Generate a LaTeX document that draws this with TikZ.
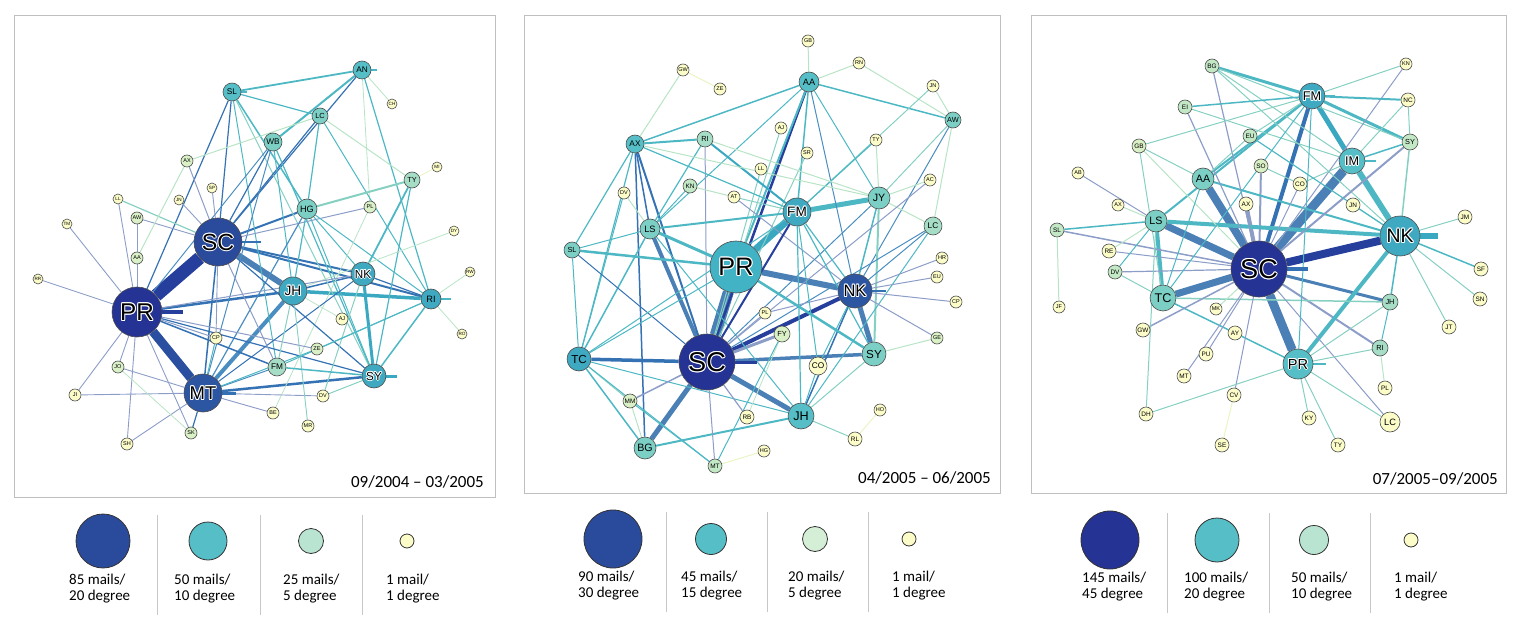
\documentclass[tikz,border=0pt]{standalone}
\usepackage{fontspec}
\setmainfont{Carlito}
\newfontfamily\lsans{Liberation Sans}
\usetikzlibrary{calc}
\pgfdeclarelayer{edges}
\pgfsetlayers{edges,main}
% edge colours
\definecolor{cY}{HTML}{E9F5C2}
\definecolor{cG}{HTML}{B8E4C6}
\definecolor{cL}{HTML}{86D0C2}
\definecolor{cT}{HTML}{4DB8C4}
\definecolor{cT2}{HTML}{3AA8C0}
\definecolor{cS}{HTML}{8C9DC8}
\definecolor{cB}{HTML}{4A8DC0}
\definecolor{cD}{HTML}{3472B4}
\definecolor{cN}{HTML}{263E9C}
\definecolor{cM}{HTML}{4A80B5}
\definecolor{cE}{HTML}{2B4FA0}
% node colours
\definecolor{nY}{HTML}{FCFCC8}
\definecolor{nG}{HTML}{DAF0C6}
\definecolor{nG2}{HTML}{C3E8C6}
\definecolor{nL}{HTML}{A6DDC6}
\definecolor{nM}{HTML}{7CCFC4}
\definecolor{nT}{HTML}{56BEC6}
\definecolor{nT2}{HTML}{3EA9C1}
\definecolor{nP}{HTML}{41B3C4}
\definecolor{nB1}{HTML}{2D56A2}
\definecolor{nB2}{HTML}{2A4A9C}
\definecolor{nN}{HTML}{253494}
\definecolor{frame}{HTML}{BFBFBF}
\newcommand\halo[1]{\leavevmode
 \rlap{\textcolor{white}{\kern1pt#1}}\rlap{\textcolor{white}{\kern-1pt#1}}%
 \rlap{\textcolor{white}{\raisebox{1pt}{#1}}}\rlap{\textcolor{white}{\raisebox{-1pt}{#1}}}%
 \rlap{\textcolor{white}{\kern0.7pt\raisebox{0.7pt}{#1}}}\rlap{\textcolor{white}{\kern-0.7pt\raisebox{0.7pt}{#1}}}%
 \rlap{\textcolor{white}{\kern0.7pt\raisebox{-0.7pt}{#1}}}\rlap{\textcolor{white}{\kern-0.7pt\raisebox{-0.7pt}{#1}}}%
 #1}
\tikzset{
 nd/.style={circle,draw=black!70,line width=0.6pt,inner sep=0pt,text=black},
 panel/.style={draw=frame,line width=1pt},
 sep/.style={draw=black!22,line width=0.8pt},
 leg/.style={circle,draw=black!80,line width=0.8pt,inner sep=0pt},
 legtxt/.style={anchor=north west,align=left,inner sep=0pt,font=\fontsize{15}{15.5}\selectfont},
 datetxt/.style={anchor=base east,inner sep=0pt,font=\fontsize{17}{17}\selectfont},
 stub/.style={line cap=butt}
}
\newcommand\nodes[1]{%
 \foreach \n/\x/\y/\r/\f/\l in {#1}{%
  \pgfmathsetmacro\fs{(\r<11)?0.92*\r:0.97*\r}%
  \node[nd,fill=\f,minimum size={2*\r*1pt}] (\n) at (\x,\y) {\lsans\fontsize{\fs}{\fs}\selectfont \l};}}
\newcommand\edges[1]{%
 \foreach \a/\b/\c/\w in {#1}{\draw[draw=\c,line width=\w pt] (\a) -- (\b);}}
\begin{document}
\begin{tikzpicture}[x=1pt,y=-1pt]
\useasboundingbox (0,0) rectangle (1525,628);
% frames
\draw[panel] (14,16) rectangle (495,497);
\draw[panel] (524,16) rectangle (1000,493);
\draw[panel] (1031,16) rectangle (1506,493);
% ---------------- panel 1 nodes
\nodes{aAN/362/70/9/nT/AN, aSL/232/92/9/nT/SL, aCH/392/104/5/nY/CH, aLC/320/116/8/nM/LC,
 aWB/273/142/9/nM/WB, aAX/187/161/6/nG/AX, aMI/437/167/5/nY/MI, aTY/412/180/8/nL/TY,
 aSP/212/188/5/nY/SP, aLL/118/199/5/nY/LL, aJN/179/200/5/nY/JN, aHG/307/209/10/nM/HG,
 aPL/370/207/6/nG/PL, aAW/137/218/6/nG/AW, aTM/67/224/5/nY/TM, aDY/454/231/5/nY/DY,
 aSC/218/242/24/nB2/{\halo{SC}}, aAA/137/258/6/nG/AA, aRR/38/279/5/nY/RR, aRW/470/272/5/nY/RW,
 aNK/363/274/12/nT2/{\halo{NK}}, aJH/293/291/14/nT2/{\halo{JH}}, aRI/431/299/10/nT2/RI,
 aPR/137/312/25/nN/{\halo{PR}}, aAJ/342/319/6/nY/AJ, aRO/462/334/5/nY/RO, aCP/216/338/6/nY/CP,
 aZE/317/349/6/nG/ZE, aJO/118/367/6/nG/JO, aFM/277/367/9/nL/FM, aSY/374/376/12/nT2/{\halo{SY}},
 aMT/203/393/19/nB1/{\halo{MT}}, aJI/75/395/6/nY/JI, aDV/323/396/6/nY/DV, aBE/273/413/6/nY/BE,
 aMR/308/426/6/nY/MR, aSK/191/433/6/nG/SK, aSH/127/444/6/nY/SH}
% ---------------- panel 2 nodes
\nodes{bGB/808/41/6/nY/GB, bRN/859/63/6/nY/RN, bGW/683/70/6/nY/GW, bAA/809/82/10/nT/AA,
 bZE/720/89/6/nY/ZE, bJN/933/86/6/nY/JN, bAW/953/120/8/nM/AW, bAJ/781/128/6/nY/AJ,
 bAX/635/144/9/nT/AX, bRI/705/139/8/nL/RI, bTY/876/140/6/nY/TY, bSR/807/153/6/nY/SR,
 bLL/761/169/6/nY/LL, bAC/930/180/6/nY/AC, bKN/690/186/7/nG2/KN, bDV/624/193/6/nY/DV,
 bAT/734/197/6/nY/AT, bJY/879/198/11/nM/JY, bFM/797/212/14/nT2/{\halo{FM}}, bLS/650/229/10/nM/LS,
 bLC/933/226/9/nL/LC, bSL/572/250/8/nM/SL, bPR/736/267/26/nP/{\halo{PR}}, bHR/942/258/6/nY/HR,
 bEU/937/277/6/nY/EU, bNK/855/291/17/nB1/{\halo{NK}}, bCP/956/302/6/nY/CP, bPL/765/313/6/nY/PL,
 bFY/782/334/8/nG/FY, bGE/937/338/6/nG/GE, bSY/874/354/12/nM/SY, bTC/579/359/12/nT2/TC,
 bSC/707/362/28/nN/{\halo{SC}}, bCO/818/366/9/nY/CO, bMM/630/401/7/nG/MM, bHO/880/410/6/nY/HO,
 bJH/801/416/13/nT/JH, bRB/747/417/7/nY/RB, bRL/855/439/7/nY/RL, bBG/645/448/11/nM/BG,
 bHG/764/451/6/nY/HG, bMT/715/466/7/nG2/MT}
% ---------------- panel 3 nodes
\nodes{cBG/1212/66/7/nG2/BG, cKN/1406/64/6/nY/KN, cFM/1312/96/13/nT2/{\halo{FM}}, cNC/1408/100/7/nY/NC,
 cEI/1185/107/7/nG2/EI, cEU/1250/136/7/nG2/EU, cSY/1410/142/8/nG2/SY, cGB/1139/146/7/nG/GB,
 cIM/1352/161/13/nT/{\halo{IM}}, cSO/1261/166/7/nG/SO, cAB/1078/173/6/nY/AB, cAA/1203/179/11/nM/AA,
 cCO/1300/184/7/nY/CO, cAXa/1118/205/6/nY/AX, cAX/1246/204/7/nY/AX, cJN/1353/205/7/nY/JN,
 cJM/1465/217/7/nY/JM, cLS/1156/221/11/nM/LS, cSL/1057/230/7/nG2/SL, cNK/1400/236/20/nT2/{\halo{NK}},
 cRE/1109/251/7/nY/RE, cSC/1259/269/28/nN/{\halo{SC}}, cSF/1481/269/7/nY/SF, cDV/1115/272/7/nG2/DV,
 cTC/1163/298/13/nM/TC, cJH/1390/302/8/nL/JH, cSN/1480/299/7/nY/SN, cJF/1059/307/6/nY/JF,
 cMK/1216/309/6/nY/MK, cJT/1449/327/7/nY/JT, cGW/1143/330/7/nY/GW, cAY/1235/333/7/nY/AY,
 cRI/1380/348/8/nL/RI, cPU/1206/354/7/nY/PU, cPR/1298/364/15/nT/{\halo{PR}}, cMT/1184/376/7/nY/MT,
 cPL/1385/388/7/nY/PL, cCV/1234/395/7/nY/CV, cDH/1146/414/7/nY/DH, cKY/1309/418/7/nY/KY,
 cLC/1390/422/10/nY/LC, cSE/1222/445/7/nY/SE, cTY/1338/445/7/nY/TY}
% ---------------- edges
\begin{pgfonlayer}{edges}
\edges{aPR/aSC/cN/13, aPR/aMT/cE/9, aSC/aJH/cM/6, aMT/aJH/cB/4, aPR/aJH/cD/2.5,
 aSC/aNK/cD/2, aSC/aRI/cD/2, aJH/aRI/cT2/3.5, aJH/aNK/cD/1.5, aNK/aSY/cT2/3, aSY/aRI/cT/1.5,
 aMT/aSY/cD/2.5, aNK/aRI/cD/1.2, aSC/aHG/cD/2, aSC/aMT/cD/1.5,
 aAN/aSL/cT/1.8, aAN/aWB/cT/2, aAN/aSC/cD/1.2, aAN/aCH/cG/0.8, aAN/aPL/cG/0.8, aAN/aRI/cT/1.2,
 aSL/aLC/cT/1.2, aSL/aHG/cT/1.5, aSL/aSC/cD/1.2, aSL/aPR/cD/1.2, aSL/aFM/cT/1, aSL/aSY/cL/1,
 aAX/aLC/cG/1, aLC/aTY/cG/1, aLC/aHG/cT/1.2, aLC/aSC/cD/1.2, aLC/aRI/cT/1,
 aWB/aSC/cD/1.2, aWB/aPR/cB/1, aWB/aMT/cB/1, aWB/aJH/cT/1, aWB/aSY/cT/1.2,
 aHG/aTY/cL/2, aSC/aPL/cS/1, aHG/aMT/cB/1.2, aHG/aJH/cT/1.2, aHG/aNK/cT/1, aHG/aSY/cT/1, aHG/aRI/cT/1,
 aTY/aMI/cY/0.8, aTY/aNK/cT/1.8, aTY/aSY/cT/1.2, aDY/aJH/cG/0.8, aPL/aBE/cG/0.8,
 aTM/aPR/cS/0.9, aLL/aSC/cL/1.2, aLL/aPR/cS/0.9, aAW/aSC/cS/0.9, aAW/aAA/cS/0.9,
 aAX/aSC/cS/1, aAX/aAA/cG/1, aJN/aSC/cS/0.9, aSP/aSC/cS/0.9, aRR/aPR/cS/0.9, aAA/aPR/cS/0.9,
 aPR/aCP/cS/1, aPR/aZE/cS/1, aPR/aFM/cD/1.5, aPR/aSY/cD/1.2, aPR/aNK/cS/1,
 aPR/aJO/cS/0.9, aPR/aJI/cS/0.9, aPR/aSH/cS/0.9, aPR/aSK/cS/0.9,
 aMT/aJO/cS/0.9, aJI/aMT/cS/0.9, aMT/aDV/cS/0.9, aMT/aSK/cD/1.2, aMT/aSH/cS/0.9, aMT/aBE/cS/0.9,
 aMT/aFM/cB/1, aMT/aZE/cT/1, aMT/aNK/cD/1, aMT/aCP/cT/1,
 aSC/aFM/cS/1, aSC/aSY/cD/1.2, aSC/aCP/cS/0.9,
 aJH/aAJ/cG/0.8, aJH/aMR/cL/0.9, aJH/aFM/cL/1, aNK/aDV/cL/1, aFM/aSY/cT/1.5, aSY/aDV/cL/1,
 aRI/aRW/cG/0.8, aRI/aRO/cG/0.8, aRI/aZE/cT/1, aFM/aRI/cT/1, aJO/aSK/cG/0.8}
\draw[stub,cN,line width=4pt] (aPR.center) -- ++(46,0);
\draw[stub,cD,line width=2pt] (aSC.center) -- ++(43,0);
\draw[stub,cD,line width=3pt] (aMT.center) -- ++(33,0);
\draw[stub,cT2,line width=3pt] (aSY.center) -- ++(23,0);
\draw[stub,cT,line width=2pt] (aRI.center) -- ++(20,0);
\draw[stub,cT,line width=2pt] (aAN.center) -- ++(15,0);
\draw[stub,cT,line width=2pt] (aSL.center) -- ++(15,0);
% panel 2
\edges{bSC/bPR/cM/11, bPR/bFM/cT2/7, bPR/bNK/cM/6, bFM/bJY/cT/5, bSC/bNK/cN/4, bSC/bFY/cS/3,
 bSC/bSY/cM/3.5, bSC/bTC/cD/3.5, bSC/bJH/cM/5, bSC/bBG/cM/5, bNK/bSY/cM/5, bLS/bSC/cM/4,
 bAX/bSC/cD/2, bAA/bSC/cN/2.5, bAA/bPR/cT/2, bAA/bFM/cT/1.5, bAA/bNK/cB/1, bAA/bAX/cT/1.5,
 bAA/bAW/cT/1.5, bAA/bJY/cT/1, bAA/bRN/cG/1, bAA/bGB/cG/1, bAA/bLS/cT/1,
 bGW/bZE/cY/1, bGW/bAX/cG/1, bRN/bAW/cG/1, bJN/bAW/cG/1, bJN/bFM/cL/1, bTY/bFM/cT/1.2, bTY/bJY/cG/1,
 bAW/bJY/cL/1, bAW/bNK/cB/1, bAW/bLC/cG/1, bAJ/bSC/cL/1, bSR/bSC/cL/1, bLL/bSC/cL/1,
 bRI/bAX/cT/2, bRI/bLS/cT/1.2, bRI/bFM/cT2/2, bRI/bJY/cG/1, bRI/bSC/cS/1,
 bAX/bLS/cD/1.5, bAX/bTC/cT/1.2, bAX/bSL/cT/1.2, bAX/bFM/cT/1.2, bAX/bBG/cD/1.5, bAX/bJY/cG/1,
 bKN/bAT/cG/1, bKN/bLS/cT/1, bAT/bNK/cS/1, bAT/bFM/cL/1, bDV/bLS/cG/1, bDV/bTC/cT/1,
 bLS/bFM/cT/2, bLS/bSL/cT/1, bLS/bPR/cT/3, bLS/bTC/cT/1.5, bLS/bJH/cT/1,
 bSL/bPR/cT/2.5, bSL/bTC/cT/1, bSL/bSC/cD/1,
 bTC/bPR/cT/1, bTC/bFM/cT/1, bTC/bMM/cL/1, bTC/bBG/cT/1.5, bTC/bJH/cT/1, bTC/bMT/cT/1,
 bJY/bNK/cT/1.5, bJY/bSY/cL/2, bJY/bSC/cB/1, bJY/bLC/cG/1, bJY/bAC/cG/1,
 bLC/bNK/cB/1, bLC/bSC/cB/1, bLC/bJH/cT/1, bAC/bSC/cS/1,
 bNK/bHR/cS/1, bNK/bEU/cS/1, bNK/bCP/cS/1, bNK/bGE/cS/1, bNK/bFM/cT/1.2, bNK/bJH/cD/1.5,
 bNK/bCO/cT/1, bNK/bPL/cS/1, bSY/bGE/cG/1, bSY/bPR/cT/2.5, bSY/bJH/cL/1,
 bFM/bSC/cN/2, bFM/bJH/cT/1.2, bFM/bCO/cT/1, bFM/bSY/cT/1.2, bFY/bRB/cG/0.8, bPL/bSC/cS/1,
 bCO/bJH/cT/1, bJH/bRL/cL/1, bJH/bBG/cT/2, bRL/bHO/cY/1, bMM/bSC/cS/1.5, bMM/bBG/cG/1,
 bMM/bMT/cT/1, bMT/bHG/cY/1, bMT/bSC/cS/1, bMT/bFY/cT/1, bRB/bSC/cS/1.2}
\draw[stub,cN,line width=3pt] (bSC.center) -- ++(50,0);
\draw[stub,cD,line width=2pt] (bNK.center) -- ++(31,0);
% panel 3
\edges{cSC/cNK/cN/8, cSC/cIM/cM/9, cSC/cAA/cM/8, cSC/cLS/cM/7, cSC/cTC/cM/7, cSC/cPR/cM/9,
 cSC/cFM/cD/4, cSC/cAX/cS/4, cSC/cSO/cS/2, cSC/cJH/cM/3, cSC/cRI/cS/2,
 cFM/cIM/cT2/5, cIM/cNK/cT/6, cFM/cSY/cT/3, cPR/cNK/cT/4, cLS/cNK/cT/4, cAA/cNK/cT/2,
 cLS/cTC/cT/4, cLS/cFM/cT/2, cAA/cFM/cT/2, cBG/cFM/cT/3, cBG/cSY/cL/1, cBG/cIM/cL/1,
 cBG/cNK/cL/1, cBG/cSC/cS/1.2, cEI/cFM/cT/1.5, cEI/cSC/cS/1.2, cEI/cIM/cL/1,
 cKN/cFM/cL/1, cKN/cSC/cS/1, cNC/cFM/cT/2, cNC/cIM/cL/1, cNC/cSY/cL/1,
 cSY/cIM/cT/1.5, cSY/cSC/cS/2, cSY/cNK/cL/1.5, cGB/cFM/cL/1, cGB/cAA/cL/1, cGB/cTC/cL/1,
 cGB/cSC/cG/1, cAB/cLS/cS/1, cAXa/cLS/cG/1, cSL/cLS/cT/1.5, cSL/cSC/cS/1.5, cSL/cJF/cG/1,
 cRE/cLS/cG/1, cRE/cSC/cS/1, cDV/cLS/cT/1, cDV/cSC/cS/1.2, cDV/cTC/cL/1,
 cTC/cJH/cL/1.5, cTC/cAY/cT/1.5, cAY/cPR/cT/1.5, cGW/cSC/cS/1.5, cMK/cSC/cG/1,
 cPU/cSC/cS/1, cMT/cSC/cS/1, cCV/cSC/cS/1, cCV/cSE/cY/1, cDH/cPR/cL/1, cDH/cLS/cL/1,
 cKY/cPR/cL/1, cTY/cPR/cL/1, cLC/cPR/cL/1, cLC/cSC/cS/1, cRI/cPR/cL/1, cRI/cJH/cT/1,
 cRI/cPL/cG/1, cJH/cNK/cT/1.5, cJH/cPR/cL/1, cJM/cNK/cL/1, cSF/cNK/cT/1.5, cSN/cNK/cL/1,
 cJT/cNK/cL/1, cCO/cIM/cL/1, cCO/cSC/cS/1, cCO/cSO/cL/1, cJN/cNK/cL/1, cEU/cNK/cT/1.2,
 cEU/cAA/cL/1, cEU/cFM/cL/1, cAA/cTC/cT/1, cFM/cTC/cT/1, cFM/cPR/cT/1}
\draw[stub,cD,line width=4pt] (cSC.center) -- ++(49,0);
\draw[stub,cT2,line width=6pt] (cNK.center) -- ++(38,0);
\draw[stub,cT,line width=2pt] (cIM.center) -- ++(24,0);
\draw[stub,cT,line width=2pt] (cFM.center) -- ++(23,0);
\draw[stub,cT,line width=2pt] (cPR.center) -- ++(28,0);
\end{pgfonlayer}
% dates
\node[datetxt] (d1) at (484,487) {09/2004 -- 03/2005};
\node[datetxt] (d2) at (991,483) {04/2005 -- 06/2005};
\node[datetxt] (d3) at (1498,484) {07/2005--09/2005};
% ---------------- legends
\node[leg,fill=nB2,minimum size=54pt] (l11) at (103,541) {};
\node[leg,fill=nT,minimum size=38pt] (l12) at (208,541) {};
\node[leg,fill=nL!80!white,minimum size=25pt] (l13) at (311,541) {};
\node[leg,fill=nY,minimum size=14pt] (l14) at (407,541) {};
\node[legtxt] (t11) at (69,574) {85 mails/\\20 degree};
\node[legtxt] (t12) at (174,574) {50 mails/\\10 degree};
\node[legtxt] (t13) at (283,574) {25 mails/\\5 degree};
\node[legtxt] (t14) at (386,574) {1 mail/\\1 degree};
\draw[sep] (157,515) -- (157,615);
\draw[sep] (260,515) -- (260,615);
\draw[sep] (362,515) -- (362,615);
\node[leg,fill=nB2,minimum size=58pt] (l21) at (613,539) {};
\node[leg,fill=nT,minimum size=31pt] (l22) at (711,539) {};
\node[leg,fill=nG2!70!white,minimum size=25pt] (l23) at (815,539) {};
\node[leg,fill=nY,minimum size=14pt] (l24) at (909,539) {};
\node[legtxt] (t21) at (578,571) {90 mails/\\30 degree};
\node[legtxt] (t22) at (681,571) {45 mails/\\15 degree};
\node[legtxt] (t23) at (788,571) {20 mails/\\5 degree};
\node[legtxt] (t24) at (892,571) {1 mail/\\1 degree};
\draw[sep] (666,512) -- (666,612);
\draw[sep] (767,512) -- (767,612);
\draw[sep] (868,512) -- (868,612);
\node[leg,fill=nN,minimum size=58pt] (l31) at (1110,540) {};
\node[leg,fill=nT,minimum size=44pt] (l32) at (1217,540) {};
\node[leg,fill=nL!80!white,minimum size=29pt] (l33) at (1314,540) {};
\node[leg,fill=nY,minimum size=14pt] (l34) at (1411,540) {};
\node[legtxt] (t31) at (1082,572) {145 mails/\\45 degree};
\node[legtxt] (t32) at (1184,572) {100 mails/\\20 degree};
\node[legtxt] (t33) at (1291,572) {50 mails/\\10 degree};
\node[legtxt] (t34) at (1394,572) {1 mail/\\1 degree};
\draw[sep] (1167,513) -- (1167,613);
\draw[sep] (1269,513) -- (1269,613);
\draw[sep] (1370,513) -- (1370,613);
\end{tikzpicture}
\end{document}
